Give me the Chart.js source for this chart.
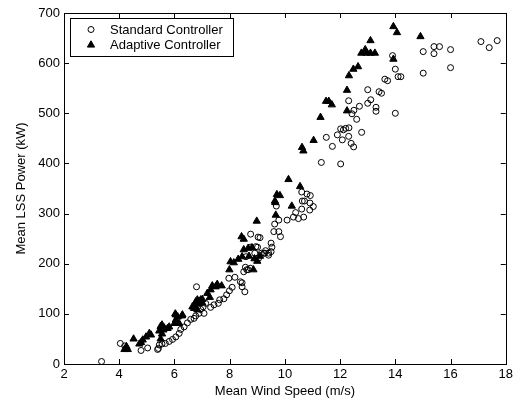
<!DOCTYPE html>
<html>
<head>
<meta charset="utf-8">
<script src="https://cdn.jsdelivr.net/npm/chart.js@4.4.1/dist/chart.umd.min.js"></script>
<style>
html,body{margin:0;padding:0;background:#fff;}
canvas{display:block;}
</style>
</head>
<body>
<canvas id="c" width="516" height="404"></canvas>
<script>
// ---- Data ----
const seriesLabels = ["Standard Controller", "Adaptive Controller"];
const xTickValues = [2, 4, 6, 8, 10, 12, 14, 16, 18];
const yTickValues = [0, 100, 200, 300, 400, 500, 600, 700];

// Standard Controller: [wind speed m/s, power kW]
const standardPoints = [
  [3.36,5],[4.04,41],[4.2,36],[4.79,27],[5.03,32],[5.39,29],[5.42,31],[5.45,38],[5.55,40],[5.67,41],
  [5.81,45],[5.93,49],[6.05,54],[6.17,61],[6.23,69],[6.35,74],[6.47,82],[6.59,89],[6.71,91],[6.77,96],
  [6.89,101],[7.07,101],[6.95,109],[7.04,114],[7.13,121],[7.31,113],[7.43,118],[7.59,121],[7.64,128],
  [7.79,130],[7.89,138],[7.99,146],[8.09,153],[6.8,154],[8.39,164],[8.45,154],[8.55,144],[8.45,162],
  [7.97,171],[8.19,173],[8.51,184],[8.57,193],[8.67,188],[8.75,191],[8.62,188],
  [8.59,214],[8.77,233],[9.01,233],[9.24,221],[8.91,221],[9.05,211],[9.15,221],[9.27,221],[9.41,221],
  [8.76,259],[9.03,253],[8.95,234],[9.1,252],[9.5,241],[9.53,233],[9.5,224],[9.41,217],[9.3,226],
  [9.6,264],[9.78,264],[9.84,254],[9.63,279],[9.78,287],[10.08,287],[9.69,315],
  [10.39,302],[10.31,293],[10.49,290],[10.68,293],[10.61,309],[10.9,307],[10.63,325],[10.71,325],
  [10.91,321],[11.03,314],[10.61,343],[10.8,339],[10.92,336],
  [11.32,402],[12.02,399],[11.5,452],[11.72,434],[11.9,457],[12.08,447],[12.31,454],[12.02,469],
  [12.12,467],[12.2,470],[12.32,471],[12.4,440],[12.49,433],[12.78,462],[12.31,525],[12.7,514],
  [12.5,506],[12.43,499],[12.6,488],[13.0,547],[13.11,527],[13.0,520],[13.3,512],[13.3,504],
  [13.41,543],[13.5,540],[13.62,568],[13.72,565],[13.9,615],[14.0,588],[14.1,573],[14.2,573],
  [14.0,500],[15.01,623],[15.01,580],[15.4,633],[15.6,633],[15.4,619],[16.0,627],[16.0,591],
  [17.1,643],[17.4,631],[17.69,645]
];

// Adaptive Controller: [wind speed m/s, power kW]
const adaptivePoints = [
  [4.19,29],[4.26,35],[4.31,29],[4.52,50],[4.73,40],[4.79,43],[4.85,48],[4.97,54],[5.09,61],[5.15,58],
  [5.45,66],[5.5,50],[5.55,60],[5.6,68],[5.5,75],[5.63,72],[5.55,78],[5.75,71],[5.81,74],
  [6.0,81],[6.17,81],[6.05,88],[6.03,100],[6.12,94],[6.27,96],[6.05,98],[6.29,98],
  [6.71,111],[6.83,108],[6.77,124],[6.89,121],[7.01,122],[6.65,114],[6.77,114],[6.83,128],[6.95,128],
  [7.01,129],[7.19,141],[7.28,133],[7.31,148],[7.37,156],[7.49,154],[7.55,159],[7.71,156],
  [7.99,188],[8.03,204],[8.15,202],[8.31,209],[8.45,214],[8.43,254],[8.51,249],[8.51,228],[8.67,231],
  [8.81,232],[8.86,188],[8.7,215],[8.9,210],[9.0,205],[9.1,215],[8.98,285],
  [9.65,322],[9.67,297],[9.64,325],[9.71,338],[9.82,336],[10.25,315],[10.13,368],[10.55,354],
  [10.62,432],[10.67,425],[11.04,446],[11.29,492],[11.49,524],[11.59,524],[11.7,517],[12.25,505],
  [12.25,546],[12.32,575],[12.48,588],[12.65,593],[12.77,620],[12.95,620],[13.1,620],[13.26,620],
  [12.91,627],[13.1,645],[13.93,608],[13.93,673],[14.06,661],[14.91,653]
];

const FONT = "'Liberation Sans', Arial, sans-serif";

const frameAndLegend = {
  id: 'frameAndLegend',
  afterDraw(chart) {
    const ctx = chart.ctx;
    const a = chart.chartArea;
    const xs = chart.scales.x, ys = chart.scales.y;
    ctx.save();
    ctx.strokeStyle = '#000';
    ctx.lineWidth = 1;
    // frame
    ctx.strokeRect(Math.round(a.left) + 0.5, Math.round(a.top) + 0.5,
                   Math.round(a.right - a.left), Math.round(a.bottom - a.top));
    // inward ticks on all four sides
    const L = 5;
    ctx.beginPath();
    xs.ticks.forEach(t => {
      const px = Math.round(xs.getPixelForValue(t.value)) + 0.5;
      ctx.moveTo(px, a.bottom); ctx.lineTo(px, a.bottom - L);
      ctx.moveTo(px, a.top); ctx.lineTo(px, a.top + L);
    });
    ys.ticks.forEach(t => {
      const py = Math.round(ys.getPixelForValue(t.value)) + 0.5;
      ctx.moveTo(a.left, py); ctx.lineTo(a.left + L, py);
      ctx.moveTo(a.right, py); ctx.lineTo(a.right - L, py);
    });
    ctx.stroke();

    // legend
    const bx = 70.5, by = 18.5, bw = 163, bh = 38;
    ctx.fillStyle = '#fff';
    ctx.fillRect(bx, by, bw, bh);
    ctx.strokeRect(bx, by, bw, bh);
    ctx.font = '13px ' + FONT;
    ctx.textBaseline = 'middle';
    const rows = [29.5, 45];
    chart.data.datasets.forEach((ds, i) => {
      const y = rows[i];
      ctx.fillStyle = ds.pointBackgroundColor;
      ctx.strokeStyle = ds.pointBorderColor;
      ctx.lineWidth = 1;
      Chart.helpers.drawPoint(ctx, {
        pointStyle: ds.pointStyle, radius: ds.pointRadius, borderWidth: 1
      }, 91, y);
      ctx.fillStyle = '#000';
      ctx.fillText(ds.label, 110, y + 0.5);
    });
    ctx.restore();
  }
};

new Chart(document.getElementById('c'), {
  type: 'scatter',
  data: {
    datasets: [
      {
        label: seriesLabels[0],
        data: standardPoints.map(p => ({x: p[0], y: p[1]})),
        pointStyle: 'circle',
        pointRadius: 3,
        pointBorderWidth: 1,
        pointBorderColor: '#000',
        pointBackgroundColor: 'rgba(255,255,255,0)',
        order: 2
      },
      {
        label: seriesLabels[1],
        data: adaptivePoints.map(p => ({x: p[0], y: p[1]})),
        pointStyle: 'triangle',
        pointRadius: 4.2,
        pointBorderWidth: 1,
        pointBorderColor: '#000',
        pointBackgroundColor: '#000',
        order: 1
      }
    ]
  },
  options: {
    responsive: false,
    animation: false,
    events: [],
    layout: { padding: { top: 13, right: 7, left: 0, bottom: 0 } },
    plugins: { legend: { display: false }, tooltip: { enabled: false } },
    scales: {
      x: {
        type: 'linear',
        min: 2, max: 18,
        afterBuildTicks: s => { s.ticks = xTickValues.map(v => ({value: v})); },
        afterFit: s => { s.height = 40; },
        grid: { display: false, drawTicks: false },
        border: { display: false },
        ticks: { color: '#000', font: { family: FONT, size: 13 }, padding: 3, maxRotation: 0 },
        title: { display: true, text: 'Mean Wind Speed (m/s)', color: '#000',
                 font: { family: FONT, size: 13 }, padding: { top: 0, bottom: 5 } }
      },
      y: {
        type: 'linear',
        min: 0, max: 700,
        afterBuildTicks: s => { s.ticks = yTickValues.map(v => ({value: v})); },
        afterFit: s => { s.width = 64; },
        grid: { display: false, drawTicks: false },
        border: { display: false },
        ticks: { color: '#000', font: { family: FONT, size: 13 }, padding: 4 },
        title: { display: true, text: 'Mean LSS Power (kW)', color: '#000',
                 font: { family: FONT, size: 13 }, padding: { top: 14, bottom: 0 } }
      }
    }
  },
  plugins: [frameAndLegend]
});
</script>
</body>
</html>
